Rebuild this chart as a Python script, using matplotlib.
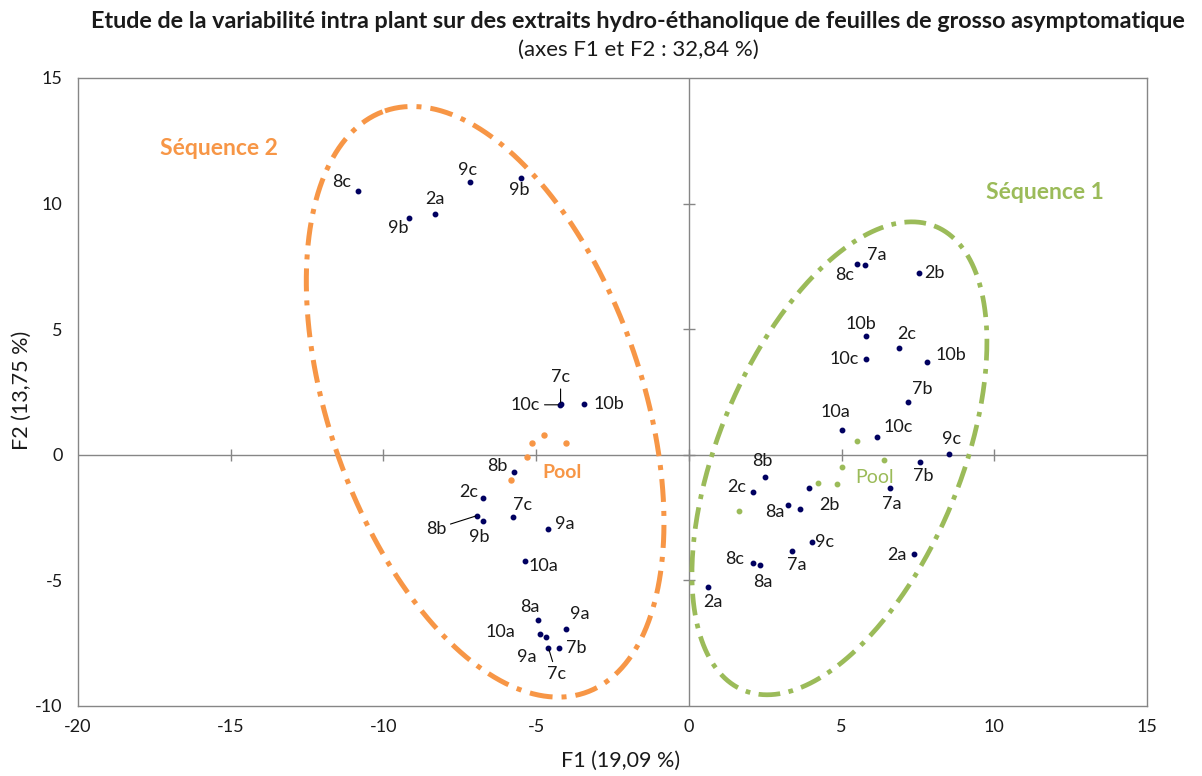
import numpy as np
import matplotlib
matplotlib.use("Agg")
import matplotlib.pyplot as plt

plt.rcParams['font.family'] = ['Lato', 'DejaVu Sans']
plt.rcParams['axes.unicode_minus'] = False

# ---------------- data ----------------
# Séquence 2 samples (F1, F2)
seq2_x = [-10.82, -9.15, -8.30, -7.18, -5.48,
          -4.20, -4.23, -3.44,
          -5.74, -6.73, -6.93, -6.73, -5.76, -4.60,
          -5.37, -4.93, -4.01, -4.86, -4.69, -4.60, -4.25]
seq2_y = [10.52, 9.44, 9.60, 10.84, 11.00,
          2.03, 1.99, 2.03,
          -0.68, -1.73, -2.42, -2.62, -2.46, -2.95,
          -4.22, -6.57, -6.93, -7.13, -7.25, -7.68, -7.68]
seq2_lab = ['8c', '9b', '2a', '9c', '9b',
            '7c', '10c', '10b',
            '8b', '2c', '8b', '9b', '7c', '9a',
            '10a', '8a', '9a', '10a', '9a', '7c', '7b']

# Séquence 1 samples (F1, F2)
seq1_x = [5.52, 5.78, 7.53, 5.81, 6.87, 5.80, 7.81, 7.16,
          5.02, 6.17, 8.51, 7.56, 2.50, 2.10, 3.93, 6.57, 3.26, 3.63,
          4.03, 3.38, 2.10, 2.33, 7.37, 0.62]
seq1_y = [7.58, 7.56, 7.24, 4.71, 4.27, 3.80, 3.69, 2.10,
          0.97, 0.71, 0.05, -0.29, -0.88, -1.49, -1.31, -1.31, -1.98, -2.14,
          -3.49, -3.84, -4.29, -4.38, -3.94, -5.25]
seq1_lab = ['8c', '7a', '2b', '10b', '2c', '10c', '10b', '7b',
            '10a', '10c', '9c', '7b', '8b', '2c', '2b', '7a', '8a', '',
            '9c', '7a', '8c', '8a', '2a', '2a']

# Pool points
pool2_x = [-4.73, -5.12, -4.02, -5.29, -5.81]
pool2_y = [0.78, 0.45, 0.45, -0.09, -1.01]
pool1_x = [5.52, 6.39, 5.02, 4.22, 4.84, 1.63]
pool1_y = [0.53, -0.20, -0.49, -1.13, -1.16, -2.22]

x_ticks = [-20, -15, -10, -5, 0, 5, 10, 15]
y_ticks = [-10, -5, 0, 5, 10, 15]

title = "Etude de la variabilité intra plant sur des extraits hydro-éthanolique de feuilles de grosso asymptomatique"
subtitle = "(axes F1 et F2 : 32,84 %)"
xlabel = "F1 (19,09 %)"
ylabel = "F2 (13,75 %)"

# ellipses (centre, semi-axis vectors) in data units
ell2_c, ell2_a, ell2_b = (-6.67, 2.11), (-3.28, 11.58), (4.85, 2.03)
ell1_c, ell1_a, ell1_b = (4.93, -0.14), (3.15, 9.23), (3.66, -1.85)

# ---------------- styles ----------------
ORANGE = '#F79646'
GREEN = '#9BBB59'
NAVY = '#000060'
GRID = '#868686'
TXT = '#1a1a1a'

# label offsets in pixels (dx, dy up) and leader flags
seq2_off = [(-17, 9), (-11, -10), (0, 15), (-2, 12), (-2, -12),
            (0, 27), (-34, 0), (25, 0),
            (-16, 6), (-15, 6), (-41, -13), (-4, -16), (10, 12), (16, 5),
            (19, -5), (-8, 13), (13, 15), (-40, 2), (-19, -20), (8, -26), (17, 0)]
seq2_lead = [False] * 5 + [True, True, False] + [False, False, True, False, False, False] + \
            [False] * 5 + [True, False]
seq1_off = [(-13, -11), (11, 10), (16, 0), (-5, 12), (8, 14), (-22, 0), (23, 7), (15, 13),
            (-7, 18), (21, 10), (3, 15), (3, -14), (-3, 16), (-16, 5), (21, -17), (2, -16),
            (-14, -7), (0, 0),
            (13, 0), (5, -14), (-18, 4), (3, -17), (-17, -1), (5, -15)]

W, H = 1202, 776
fig = plt.figure(figsize=(W / 100, H / 100), dpi=100)
ax = fig.add_axes([78 / W, 1 - 706 / H, (1147 - 78) / W, (706 - 78) / H])
ax.set_xlim(x_ticks[0], x_ticks[-1])
ax.set_ylim(y_ticks[0], y_ticks[-1])
ax.set_xticks(x_ticks)
ax.set_yticks(y_ticks)
ax.tick_params(length=0, labelsize=13, labelcolor=TXT)
ax.tick_params(axis='y', pad=11)
ax.tick_params(axis='x', pad=9)
for s in ax.spines.values():
    s.set_color(GRID)
    s.set_linewidth(1.0)

# zero axes with cross ticks
ax.axhline(0, color=GRID, lw=1.0, zorder=1)
ax.axvline(0, color=GRID, lw=1.0, zorder=1)
ax.plot(x_ticks[1:-1], [0] * len(x_ticks[1:-1]), ls='none', marker='|', ms=8,
        mew=1.0, color=GRID, zorder=1)
ax.plot([0] * len(y_ticks[1:-1]), y_ticks[1:-1], ls='none', marker='_', ms=8,
        mew=1.0, color=GRID, zorder=1)

# ellipses
t = np.linspace(0, 2 * np.pi, 400)
for (c, a, b, col, lw) in [(ell2_c, ell2_a, ell2_b, ORANGE, 3.6),
                           (ell1_c, ell1_a, ell1_b, GREEN, 3.4)]:
    ex = c[0] + a[0] * np.cos(t) + b[0] * np.sin(t)
    ey = c[1] + a[1] * np.cos(t) + b[1] * np.sin(t)
    ax.plot(ex, ey, color=col, lw=lw, ls=(0, (4.6, 1.8, 1.0, 1.8)),
            dash_capstyle='butt', zorder=2)

# points
ax.plot(seq2_x, seq2_y, ls='none', marker='o', ms=3.2, color=NAVY, zorder=4)
ax.plot(seq1_x, seq1_y, ls='none', marker='o', ms=3.2, color=NAVY, zorder=4)
ax.plot(pool2_x, pool2_y, ls='none', marker='o', ms=3.6, color=ORANGE, zorder=3)
ax.plot(pool1_x, pool1_y, ls='none', marker='o', ms=3.2, color=GREEN, zorder=3)

def label_points(xs, ys, labs, offs, leads):
    for x, y, lab, (dx, dy), ld in zip(xs, ys, labs, offs, leads):
        if not lab:
            continue
        kw = {}
        if ld:
            kw['arrowprops'] = dict(arrowstyle='-', color='#000000', lw=0.8,
                                    shrinkA=1, shrinkB=1)
        ax.annotate(lab, xy=(x, y), xytext=(dx, dy), textcoords='offset pixels',
                    ha='center', va='center', fontsize=13, color=TXT, zorder=5, **kw)

label_points(seq2_x, seq2_y, seq2_lab, seq2_off, seq2_lead)
label_points(seq1_x, seq1_y, seq1_lab, seq1_off, [False] * len(seq1_x))

ax.text(-15.38, 12.2, "Séquence 2", color=ORANGE, fontsize=16.5, fontweight='bold',
        ha='center', va='center')
ax.text(11.65, 10.45, "Séquence 1", color=GREEN, fontsize=16.5, fontweight='bold',
        ha='center', va='center')
ax.text(-4.16, -0.72, "Pool", color=ORANGE, fontsize=14, fontweight='bold',
        ha='center', va='center')
ax.text(6.07, -0.9, "Pool", color=GREEN, fontsize=14, ha='center', va='center')

fig.text(638 / W, 1 - 21 / H, title, ha='center', va='center', fontsize=16.8,
         fontweight='bold', color=TXT)
fig.text(638 / W, 1 - 50 / H, subtitle, ha='center', va='center', fontsize=16,
         color=TXT)
fig.text(621 / W, 1 - 761 / H, xlabel, ha='center', va='center', fontsize=15.5, color=TXT)
fig.text(22 / W, 1 - 390 / H, ylabel, ha='center', va='center', fontsize=15.5,
         color=TXT, rotation=90)

fig.savefig('out.png', dpi=100)
